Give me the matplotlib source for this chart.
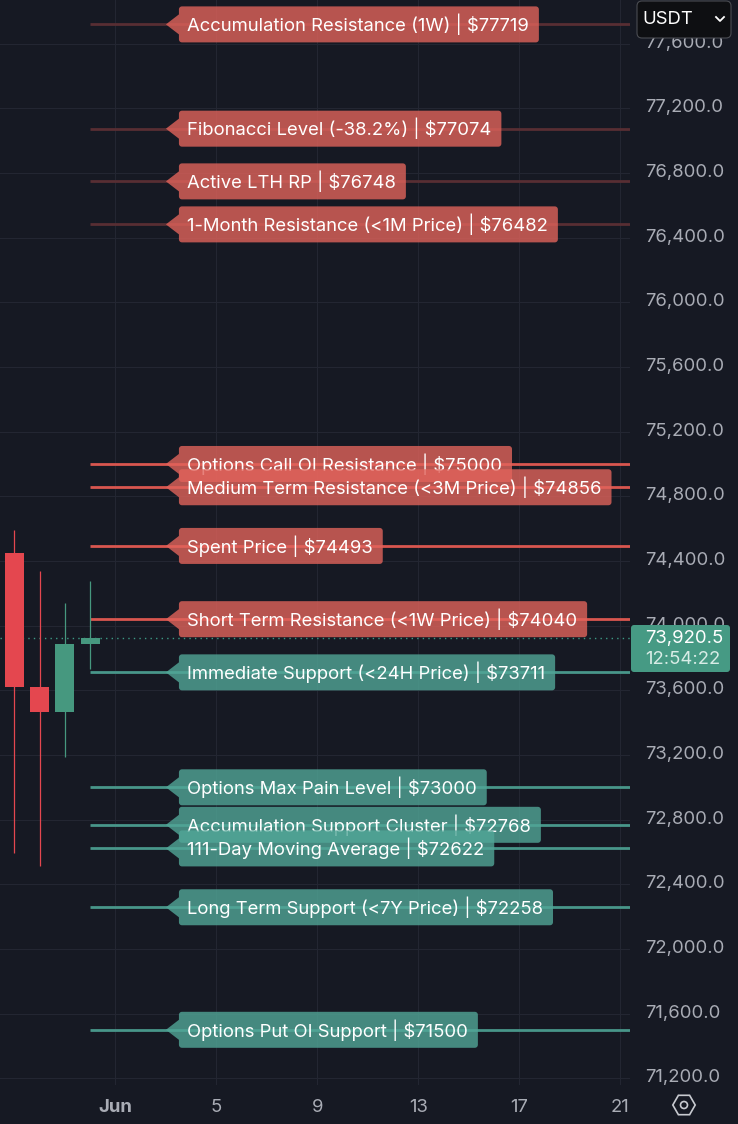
import numpy as np
import pandas as pd
import matplotlib
matplotlib.use('Agg')
import matplotlib.pyplot as plt
import matplotlib.dates as mdates
import matplotlib.transforms as mtrans
from matplotlib.patches import Polygon, FancyBboxPatch, RegularPolygon, Circle
from matplotlib.lines import Line2D

plt.rcParams['font.family'] = ['Inter', 'DejaVu Sans']

# daily candles
candle_dates = pd.to_datetime(['2024-05-28', '2024-05-29', '2024-05-30', '2024-05-31'])
opens = [74449, 73622, 73468, 73886]
highs = [74592, 74338, 74140, 74276]
lows = [72592, 72515, 73189, 73734]
closes = [73622, 73468, 73886, 73920.5]

last_price = 73920.5
countdown = '12:54:22'

level_names = ['Accumulation Resistance (1W)', 'Fibonacci Level (-38.2%)', 'Active LTH RP',
               '1-Month Resistance (<1M Price)', 'Options Call OI Resistance',
               'Medium Term Resistance (<3M Price)', 'Spent Price',
               'Short Term Resistance (<1W Price)', 'Immediate Support (<24H Price)',
               'Options Max Pain Level', 'Accumulation Support Cluster',
               '111-Day Moving Average', 'Long Term Support (<7Y Price)',
               'Options Put OI Support']
level_prices = [77719, 77074, 76748, 76482, 75000, 74856, 74493, 74040, 73711,
                73000, 72768, 72622, 72258, 71500]

price_ticks = np.arange(71200, 77601, 400)
date_ticks = pd.to_datetime(['2024-06-01', '2024-06-05', '2024-06-09',
                             '2024-06-13', '2024-06-17', '2024-06-21'])
date_labels = ['Jun', '5', '9', '13', '17', '21']

W, H = 738, 1124
BG = '#161923'
GRID = '#232632'
AXTXT = '#a9acb5'
UP = '#46987f'
DOWN = '#e4474f'
RED_LINE, RED_FADED, RED_BOX = '#d9564f', '#582e33', '#e1635b'
TEAL_LINE, TEAL_BOX = '#48968a', '#51a697'
FADE_ABOVE = 76000
FS = 13.3


def P(x, y):
    # image pixels (top-left origin) -> figure inches
    return x / 100, (H - y) / 100


fig = plt.figure(figsize=(W / 100, H / 100), dpi=100, facecolor=BG)
ax = fig.add_axes([0, 39 / H, 630 / W, 1085 / H])
ax.set_facecolor(BG)
for s in ax.spines.values():
    s.set_visible(False)

x = mdates.date2num(candle_dates)
x0 = x[0]
ax.set_xlim(x0 - 0.566, x0 + 24.384)
ax.set_ylim(71158.6, 77869.9)

# candles
colors = [UP if c >= o else DOWN for o, c in zip(opens, closes)]
ax.vlines(x, lows, highs, colors=colors, lw=0.9, zorder=3)
bottoms = np.minimum(opens, closes)
heights = np.abs(np.array(closes) - np.array(opens))
ax.bar(x, heights, width=0.75, bottom=bottoms, color=colors, zorder=3)

# last price dotted line
ax.axhline(last_price, color='#3d9a85', lw=1, ls=(0, (1, 3)), zorder=2)

# level lines
for p in level_prices:
    if p > last_price:
        c = RED_FADED if p > FADE_ABOVE else RED_LINE
    else:
        c = TEAL_LINE
    ax.plot([x[-1], ax.get_xlim()[1]], [p, p], color=c, lw=2, zorder=2,
            solid_capstyle='butt')

# label texts
base = mtrans.ScaledTranslation(0, -6.8 / 100, fig.dpi_scale_trans)
texts = []
for i, (name, p) in enumerate(zip(level_names, level_prices)):
    t = ax.text(x0 + 6.84, p, f'{name} | ${p}', color='white', fontsize=FS,
                va='baseline', ha='left', transform=ax.transData + base,
                zorder=6 + 2 * i)
    texts.append(t)

fig.canvas.draw()
renderer = fig.canvas.get_renderer()
inv = ax.transData.inverted()


def arc(cx, cy, a0, a1, r, n=6):
    a = np.radians(np.linspace(a0, a1, n))
    return list(zip(cx + r * np.cos(a), cy + r * np.sin(a)))


for i, (t, p) in enumerate(zip(texts, level_prices)):
    bb = t.get_window_extent(renderer)
    xl = ax.transData.transform((x0 + 6.52, p))[0]
    xr = bb.x1 + 10
    yc = ax.transData.transform((x0, p))[1]
    h, tip, notch, r = 18, 13, 10, 3
    v = [(xl - tip, yc), (xl, yc + notch)]
    v += arc(xl + r, yc + h - r, 180, 90, r)
    v += arc(xr - r, yc + h - r, 90, 0, r)
    v += arc(xr - r, yc - h + r, 0, -90, r)
    v += arc(xl + r, yc - h + r, -90, -180, r)
    v += [(xl, yc - notch)]
    verts = inv.transform(np.array(v))
    fc = RED_BOX if p > last_price else TEAL_BOX
    ax.add_patch(Polygon(verts, closed=True, fc=fc, ec='none', alpha=0.8,
                         zorder=5 + 2 * i))

# axes ticks
ax.yaxis.tick_right()
ax.set_yticks(price_ticks)
ax.set_yticklabels([f'{v:,.1f}' for v in price_ticks])
ax.set_xticks(mdates.date2num(date_ticks))
ax.set_xticklabels(date_labels)
ax.xaxis.get_ticklabels()[0].set_fontweight('bold')
ax.tick_params(axis='y', length=0, pad=10.8, labelsize=FS, labelcolor=AXTXT)
ax.tick_params(axis='x', length=0, pad=10, labelsize=FS, labelcolor=AXTXT)
up = mtrans.ScaledTranslation(0, 2.5 / 100, fig.dpi_scale_trans)
for lab in ax.get_yticklabels():
    lab.set_transform(lab.get_transform() + up)
ax.grid(True, color=GRID, lw=0.8)
ax.set_axisbelow(True)

tr = fig.dpi_scale_trans

# last price tag on the price scale
fig.add_artist(FancyBboxPatch(P(631, 672), 0.99, 0.47,
                              boxstyle='round,pad=0,rounding_size=0.03',
                              fc='#469a84', ec='none', transform=tr, zorder=5))
fig.text(*P(645, 638), f'{last_price:,.1f}', color='white', fontsize=FS,
         va='center', ha='left', transform=tr, zorder=6)
fig.text(*P(645, 660), countdown, color='#d8ece6', fontsize=FS,
         va='center', ha='left', transform=tr, zorder=6)

# currency selector
fig.add_artist(FancyBboxPatch(P(637, 38), 0.94, 0.37,
                              boxstyle='round,pad=0,rounding_size=0.05',
                              fc='#0e0f12', ec='#4a4c52', lw=0.8, transform=tr,
                              zorder=5))
fig.text(*P(642, 19), 'USDT', color='white', fontsize=FS, va='center',
         ha='left', transform=tr, zorder=6)
cx, cy = zip(P(716, 17), P(720, 21), P(724, 17))
fig.add_artist(Line2D(cx, cy, color='white', lw=1.3, transform=tr, zorder=6))

# settings icon
fig.add_artist(RegularPolygon(P(684, 1105), 6, radius=0.112, orientation=np.pi / 6,
                              fc='none', ec='#c8cad0', lw=1.2, transform=tr))
fig.add_artist(Circle(P(684, 1105), 0.035, fc='none', ec='#c8cad0', lw=1.2,
                      transform=tr))

fig.savefig('out.png', dpi=100, facecolor=BG)
